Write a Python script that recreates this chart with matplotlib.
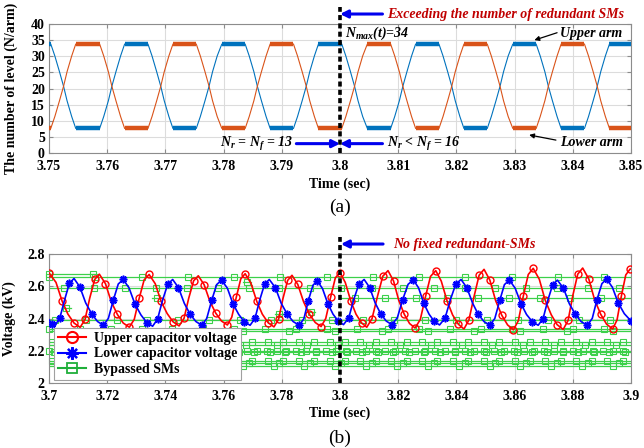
import numpy as np
import matplotlib
matplotlib.use('Agg')
import matplotlib.pyplot as plt
from matplotlib.lines import Line2D

plt.rcParams['font.family'] = 'Liberation Serif'
plt.rcParams['mathtext.fontset'] = 'custom'
plt.rcParams['mathtext.it'] = 'Liberation Serif:italic:bold'
plt.rcParams['mathtext.rm'] = 'Liberation Serif:bold'
plt.rcParams['mathtext.bf'] = 'Liberation Serif:bold'

# ---------------- (a) number of levels ----------------
t_level = [3.7500, 3.7503, 3.7510, 3.7518, 3.7525, 3.7531, 3.7539, 3.7546,
           3.7587, 3.7594, 3.7602, 3.7608, 3.7615, 3.7623, 3.7630,
           3.7670, 3.7677, 3.7685, 3.7692, 3.7698, 3.7706, 3.7713,
           3.7753, 3.7760, 3.7768, 3.7775, 3.7781, 3.7789, 3.7797,
           3.7837, 3.7844, 3.7852, 3.7858, 3.7865, 3.7873, 3.7880,
           3.7920, 3.7927, 3.7935, 3.7942, 3.7948, 3.7956, 3.7963,
           3.8003, 3.8010, 3.8018, 3.8025, 3.8031, 3.8039, 3.8047,
           3.8087, 3.8094, 3.8102, 3.8108, 3.8115, 3.8123, 3.8130,
           3.8170, 3.8177, 3.8185, 3.8192, 3.8198, 3.8206, 3.8213,
           3.8253, 3.8260, 3.8268, 3.8275, 3.8281, 3.8289, 3.8297,
           3.8337, 3.8344, 3.8352, 3.8358, 3.8365, 3.8373, 3.8380,
           3.8420, 3.8427, 3.8435, 3.8442, 3.8448, 3.8456, 3.8463,
           3.8500]
upper_level = [33.8, 33.8, 30.1, 25.2, 20.7, 16.2, 11.3, 7.6,
               7.6, 11.3, 16.2, 20.7, 25.2, 30.1, 33.8,
               33.8, 30.1, 25.2, 20.7, 16.2, 11.3, 7.6,
               7.6, 11.3, 16.2, 20.7, 25.2, 30.1, 33.8,
               33.8, 30.1, 25.2, 20.7, 16.2, 11.3, 7.6,
               7.6, 11.3, 16.2, 20.7, 25.2, 30.1, 33.8,
               33.8, 30.1, 25.2, 20.7, 16.2, 11.3, 7.6,
               7.6, 11.3, 16.2, 20.7, 25.2, 30.1, 33.8,
               33.8, 30.1, 25.2, 20.7, 16.2, 11.3, 7.6,
               7.6, 11.3, 16.2, 20.7, 25.2, 30.1, 33.8,
               33.8, 30.1, 25.2, 20.7, 16.2, 11.3, 7.6,
               7.6, 11.3, 16.2, 20.7, 25.2, 30.1, 33.8,
               33.8]
lower_level = [7.6, 7.6, 11.3, 16.2, 20.7, 25.2, 30.1, 33.8,
               33.8, 30.1, 25.2, 20.7, 16.2, 11.3, 7.6,
               7.6, 11.3, 16.2, 20.7, 25.2, 30.1, 33.8,
               33.8, 30.1, 25.2, 20.7, 16.2, 11.3, 7.6,
               7.6, 11.3, 16.2, 20.7, 25.2, 30.1, 33.8,
               33.8, 30.1, 25.2, 20.7, 16.2, 11.3, 7.6,
               7.6, 11.3, 16.2, 20.7, 25.2, 30.1, 33.8,
               33.8, 30.1, 25.2, 20.7, 16.2, 11.3, 7.6,
               7.6, 11.3, 16.2, 20.7, 25.2, 30.1, 33.8,
               33.8, 30.1, 25.2, 20.7, 16.2, 11.3, 7.6,
               7.6, 11.3, 16.2, 20.7, 25.2, 30.1, 33.8,
               33.8, 30.1, 25.2, 20.7, 16.2, 11.3, 7.6,
               7.6]
xticks_a = [3.75, 3.76, 3.77, 3.78, 3.79, 3.80, 3.81, 3.82, 3.83, 3.84, 3.85]
xticklabels_a = ['3.75', '3.76', '3.77', '3.78', '3.79', '3.8', '3.81', '3.82', '3.83', '3.84', '3.85']
yticks_a = [0, 5, 10, 15, 20, 25, 30, 35, 40]

# ---------------- (b) capacitor voltages ----------------
red_t = [3.7000, 3.7024, 3.7045, 3.7065, 3.7086, 3.7107,
         3.7124, 3.7140, 3.7157, 3.7173,
         3.7194, 3.7214, 3.7235, 3.7255, 3.7276,
         3.7293, 3.7310, 3.7327, 3.7344,
         3.7365, 3.7385, 3.7406, 3.7426, 3.7447,
         3.7464, 3.7480, 3.7497, 3.7513,
         3.7533, 3.7553, 3.7573, 3.7593, 3.7613,
         3.7628, 3.7644, 3.7659, 3.7674,
         3.7694, 3.7714, 3.7733, 3.7753, 3.7773,
         3.7789, 3.7804, 3.7820, 3.7835,
         3.7855, 3.7875, 3.7895, 3.7915, 3.7935,
         3.7951, 3.7968, 3.7984, 3.8000,
         3.8018, 3.8037, 3.8055, 3.8074, 3.8092,
         3.8110, 3.8129, 3.8147, 3.8165,
         3.8184, 3.8202, 3.8221, 3.8239, 3.8258,
         3.8276, 3.8294, 3.8311, 3.8329,
         3.8348, 3.8368, 3.8387, 3.8407, 3.8426,
         3.8443, 3.8461, 3.8478, 3.8495,
         3.8515, 3.8535, 3.8556, 3.8576, 3.8596,
         3.8613, 3.8630, 3.8647, 3.8664,
         3.8685, 3.8705, 3.8726, 3.8746, 3.8767,
         3.8784, 3.8800, 3.8817, 3.8834,
         3.8855, 3.8875, 3.8896, 3.8916, 3.8937,
         3.8952, 3.8967, 3.8982, 3.8997, 3.9000]
red_v = [2.683, 2.624, 2.508, 2.427, 2.372, 2.345,
         2.395, 2.527, 2.642, 2.675,
         2.616, 2.504, 2.425, 2.372, 2.346,
         2.395, 2.526, 2.640, 2.673,
         2.616, 2.507, 2.431, 2.380, 2.354,
         2.401, 2.525, 2.634, 2.665,
         2.610, 2.506, 2.433, 2.384, 2.360,
         2.408, 2.535, 2.646, 2.678,
         2.619, 2.506, 2.427, 2.374, 2.348,
         2.396, 2.524, 2.636, 2.668,
         2.611, 2.503, 2.426, 2.375, 2.350,
         2.400, 2.534, 2.652, 2.685,
         2.624, 2.509, 2.427, 2.373, 2.346,
         2.399, 2.539, 2.662, 2.697,
         2.633, 2.512, 2.426, 2.369, 2.341,
         2.394, 2.537, 2.661, 2.697,
         2.632, 2.509, 2.422, 2.364, 2.335,
         2.391, 2.539, 2.668, 2.705,
         2.638, 2.510, 2.420, 2.360, 2.330,
         2.387, 2.540, 2.673, 2.711,
         2.643, 2.514, 2.423, 2.362, 2.332,
         2.389, 2.542, 2.675, 2.713,
         2.645, 2.516, 2.426, 2.365, 2.335,
         2.391, 2.540, 2.670, 2.707, 2.706]
blue_t = [3.7000, 3.7010, 3.7021,
          3.7037, 3.7054, 3.7070, 3.7086,
          3.7106, 3.7126, 3.7147, 3.7167, 3.7187,
          3.7204, 3.7221, 3.7238, 3.7255,
          3.7275, 3.7295, 3.7316, 3.7336, 3.7356,
          3.7373, 3.7390, 3.7408, 3.7425,
          3.7445, 3.7465, 3.7485, 3.7505, 3.7525,
          3.7542, 3.7559, 3.7576, 3.7593,
          3.7613, 3.7632, 3.7652, 3.7671, 3.7691,
          3.7708, 3.7724, 3.7741, 3.7757,
          3.7778, 3.7798, 3.7819, 3.7839, 3.7860,
          3.7876, 3.7891, 3.7907, 3.7922,
          3.7940, 3.7958, 3.7976, 3.7994, 3.8012,
          3.8030, 3.8047, 3.8065, 3.8083,
          3.8102, 3.8121, 3.8140, 3.8159, 3.8178,
          3.8197, 3.8215, 3.8234, 3.8252,
          3.8270, 3.8288, 3.8306, 3.8324, 3.8342,
          3.8361, 3.8379, 3.8398, 3.8416,
          3.8436, 3.8456, 3.8475, 3.8495, 3.8515,
          3.8532, 3.8549, 3.8565, 3.8582,
          3.8602, 3.8622, 3.8641, 3.8661, 3.8681,
          3.8698, 3.8714, 3.8731, 3.8747,
          3.8768, 3.8788, 3.8809, 3.8829, 3.8850,
          3.8867, 3.8883, 3.8900, 3.8916,
          3.8936, 3.8956, 3.8977, 3.9000]
blue_v = [2.392, 2.368, 2.358,
          2.402, 2.518, 2.619, 2.648,
          2.596, 2.497, 2.428, 2.381, 2.358,
          2.401, 2.514, 2.614, 2.642,
          2.590, 2.491, 2.422, 2.375, 2.352,
          2.396, 2.512, 2.613, 2.642,
          2.591, 2.494, 2.426, 2.381, 2.358,
          2.400, 2.512, 2.610, 2.638,
          2.588, 2.492, 2.425, 2.380, 2.358,
          2.401, 2.514, 2.614, 2.642,
          2.591, 2.494, 2.426, 2.381, 2.358,
          2.399, 2.510, 2.606, 2.634,
          2.585, 2.493, 2.427, 2.384, 2.362,
          2.404, 2.516, 2.614, 2.642,
          2.592, 2.496, 2.429, 2.384, 2.362,
          2.404, 2.515, 2.612, 2.640,
          2.590, 2.494, 2.427, 2.382, 2.360,
          2.402, 2.515, 2.614, 2.642,
          2.591, 2.494, 2.426, 2.381, 2.358,
          2.400, 2.512, 2.610, 2.638,
          2.588, 2.492, 2.425, 2.380, 2.358,
          2.400, 2.512, 2.610, 2.638,
          2.588, 2.492, 2.425, 2.380, 2.358,
          2.401, 2.516, 2.616, 2.645,
          2.594, 2.497, 2.430, 2.385]
# bypassed SMs: constant capacitor voltages
bypass_level = [2.659, 2.591, 2.390, 2.337, 2.322, 2.252, 2.238, 2.198, 2.190,
                2.136, 2.122, 2.107, 2.525, 2.678, 2.463, 2.529, 2.628, 2.426, 2.438]
bypass_t0 = [3.70] * 12 + [3.80, 3.700, 3.7045, 3.7355, 3.7665, 3.7775, 3.7885]
bypass_t1 = [3.90] * 12 + [3.90, 3.716, 3.7075, 3.7385, 3.7695, 3.7805, 3.7915]
xticks_b = [3.70, 3.72, 3.74, 3.76, 3.78, 3.80, 3.82, 3.84, 3.86, 3.88, 3.90]
xticklabels_b = ['3.7', '3.72', '3.74', '3.76', '3.78', '3.8', '3.82', '3.84', '3.86', '3.88', '3.9']
yticks_b = [2.0, 2.2, 2.4, 2.6, 2.8]
yticklabels_b = ['2', '2.2', '2.4', '2.6', '2.8']
series_labels = ['Upper capacitor voltage', 'Lower capacitor voltage', 'Bypassed SMs']

# ---------------- styles ----------------
C_UP = '#0072BD'
C_LO = '#D95319'
C_RED = '#FF0000'
C_BLUE = '#0000FF'
C_GREEN = '#3CD04A'
C_NOTE = '#C00000'
C_ARROW = '#0000EE'
GRID = '#DCDCDC'
SPINE = '#8C8C8C'
TICKFS = 10
# marker step / offset per bypass line (style only)
bp_step = [0.0159, 0.0106, 0.0106, 0.0106, 0.0159, 0.0053, 0.0106, 0.0034, 0.0053,
           0.0053, 0.0106, 0.0106, 0.0106, 0.015, 0.01, 0.01, 0.01, 0.01, 0.01]
bp_off = [0.0, 0.005, 0.002, 0.0, 0.003, 0.001, 0.004, 0.0, 0.0017,
          0.001, 0.005, 0.003, 0.005, 0.0, 0.0015, 0.0015, 0.0015, 0.0015, 0.0015]

fig = plt.figure(figsize=(6.44, 4.48), dpi=100)
ax1 = fig.add_axes([0.0761, 0.6585, 0.9037, 0.2879])
ax2 = fig.add_axes([0.0761, 0.1451, 0.9037, 0.2879])


def style_axes(ax):
    for s in ax.spines.values():
        s.set_color(SPINE)
        s.set_linewidth(0.8)
    ax.grid(True, color=GRID, linewidth=0.8)
    ax.set_axisbelow(True)
    ax.tick_params(direction='in', length=3, color=SPINE, labelsize=TICKFS,
                   top=True, right=True)
    ax.tick_params(axis='x', pad=5)
    ax.tick_params(axis='y', pad=3)
    for lab in ax.get_xticklabels() + ax.get_yticklabels():
        lab.set_fontweight('bold')


# ---- panel (a)
ax1.plot(t_level, upper_level, color=C_UP, lw=0.8, zorder=3)
ax1.plot(t_level, lower_level, color=C_LO, lw=0.8, zorder=3)
for series, col in ((upper_level, C_UP), (lower_level, C_LO)):
    hi, lo = max(series), min(series)
    for i in range(len(series) - 1):
        if series[i] == series[i + 1] and series[i] in (hi, lo):
            ax1.plot([t_level[i], t_level[i + 1]], [series[i], series[i + 1]],
                     color=col, lw=3.2, solid_capstyle='butt', zorder=4)
ax1.set_xlim(3.75, 3.85)
ax1.set_ylim(0, 40)
ax1.set_xticks(xticks_a)
ax1.set_xticklabels(xticklabels_a)
ax1.set_yticks(yticks_a)
style_axes(ax1)
ax1.set_xlabel('Time (sec)', fontweight='bold', fontsize=10)
ax1.xaxis.set_label_coords(0.5, -0.19)
ax1.set_ylabel('The number of level (N/arm)', fontweight='bold', fontsize=10)
ax1.yaxis.set_label_coords(-0.053, 0.5)

ax1.plot([3.8, 3.8], [0, 45.3], color='black', lw=2.6, ls=(0, (1.4, 0.9)),
         clip_on=False, zorder=6)
arrow_kw = dict(arrowstyle='-|>', color=C_ARROW, lw=2.2, mutation_scale=11,
                shrinkA=0, shrinkB=0)
ax1.annotate('', xy=(3.8, 43.1), xytext=(3.8073, 43.1), arrowprops=arrow_kw,
             annotation_clip=False, zorder=7)
ax1.text(3.8081, 43.1, 'Exceeding the number of redundant SMs', color=C_NOTE,
         fontsize=10, fontweight='bold', fontstyle='italic', va='center', ha='left')
ax1.text(3.8008, 37.2, '$N_{max}$(t)=34', fontsize=10, fontstyle='italic',
         fontweight='bold', va='center', ha='left')
ax1.text(3.8378, 37.2, 'Upper arm', fontsize=10, fontstyle='italic',
         fontweight='bold', va='center', ha='left')
ax1.annotate('', xy=(3.8334, 35.0), xytext=(3.8373, 37.3),
             arrowprops=dict(arrowstyle='-|>', color='black', lw=0.9,
                             mutation_scale=7, shrinkA=0, shrinkB=0))
ax1.text(3.8378, 3.1, 'Lower arm', fontsize=10, fontstyle='italic',
         fontweight='bold', va='center', ha='left')
ax1.annotate('', xy=(3.8325, 5.6), xytext=(3.8371, 4.0),
             arrowprops=dict(arrowstyle='-|>', color='black', lw=0.9,
                             mutation_scale=7, shrinkA=0, shrinkB=0))
ax1.text(3.7919, 2.9, '$N_r$ = $N_f$ = 13', fontsize=10, fontstyle='italic',
         fontweight='bold', va='center', ha='right')
ax1.annotate('', xy=(3.8, 2.9), xytext=(3.7925, 2.9), arrowprops=arrow_kw, zorder=7)
ax1.text(3.8080, 2.9, '$N_r$ < $N_f$ = 16', fontsize=10, fontstyle='italic',
         fontweight='bold', va='center', ha='left')
ax1.annotate('', xy=(3.8, 2.9), xytext=(3.8073, 2.9), arrowprops=arrow_kw, zorder=7)

# ---- panel (b)
for lvl, a, b, stp, off in zip(bypass_level, bypass_t0, bypass_t1, bp_step, bp_off):
    ax2.plot([a, b], [lvl, lvl], color=C_GREEN, lw=0.9, zorder=2)
    xs = np.arange(a + off, b + 1e-9, stp)
    ax2.plot(xs, np.full(len(xs), lvl), ls='none', marker='s', ms=3.8,
             mfc='none', mec=C_GREEN, mew=0.8, zorder=2, clip_on=False)
ax2.plot(red_t, red_v, color=C_RED, lw=1.2, marker='o', ms=5, mfc='none',
         mec=C_RED, mew=1.0, markevery=2, zorder=4)
ax2.plot(blue_t, blue_v, color=C_BLUE, lw=1.2, marker=(8, 2, 0), ms=5.5,
         mec=C_BLUE, mew=1.2, markevery=(1, 2), zorder=4)
ax2.set_xlim(3.7, 3.9)
ax2.set_ylim(2.0, 2.8)
ax2.set_xticks(xticks_b)
ax2.set_xticklabels(xticklabels_b)
ax2.set_yticks(yticks_b)
ax2.set_yticklabels(yticklabels_b)
style_axes(ax2)
ax2.set_xlabel('Time (sec)', fontweight='bold', fontsize=10)
ax2.xaxis.set_label_coords(0.5, -0.186)
ax2.set_ylabel('Voltage (kV)', fontweight='bold', fontsize=10)
ax2.yaxis.set_label_coords(-0.057, 0.5)

ax2.plot([3.8, 3.8], [2.0, 2.905], color='black', lw=2.6, ls=(0, (1.4, 0.9)),
         clip_on=False, zorder=6)
ax2.annotate('', xy=(3.8003, 2.862), xytext=(3.8148, 2.862), arrowprops=arrow_kw,
             annotation_clip=False, zorder=7)
ax2.text(3.8182, 2.862, 'No fixed redundant-SMs', color=C_NOTE, fontsize=10,
         fontweight='bold', fontstyle='italic', va='center', ha='left')

handles = [Line2D([], [], color=C_RED, lw=1.5, marker='o', ms=8, mfc='none', mew=1.5),
           Line2D([], [], color=C_BLUE, lw=1.5, marker=(8, 2, 0), ms=9, mew=1.6),
           Line2D([], [], color='#1FAF3A', lw=1.5, marker='s', ms=7, mfc='none', mew=1.3)]
leg = ax2.legend(handles, series_labels, loc='lower left',
                 bbox_to_anchor=(0.008, 0.02), prop={'weight': 'bold', 'size': 10},
                 handlelength=2.0, borderpad=0.3, labelspacing=0.2,
                 handletextpad=0.6, borderaxespad=0.0, fancybox=False,
                 framealpha=1.0, edgecolor='#A0A0A0')
leg.get_frame().set_linewidth(0.8)
leg.set_zorder(8)

fig.text(0.528, 0.538, '(a)', fontsize=14, ha='center', va='center')
fig.text(0.528, 0.0223, '(b)', fontsize=14, ha='center', va='center')

fig.savefig('out.png', dpi=100)
